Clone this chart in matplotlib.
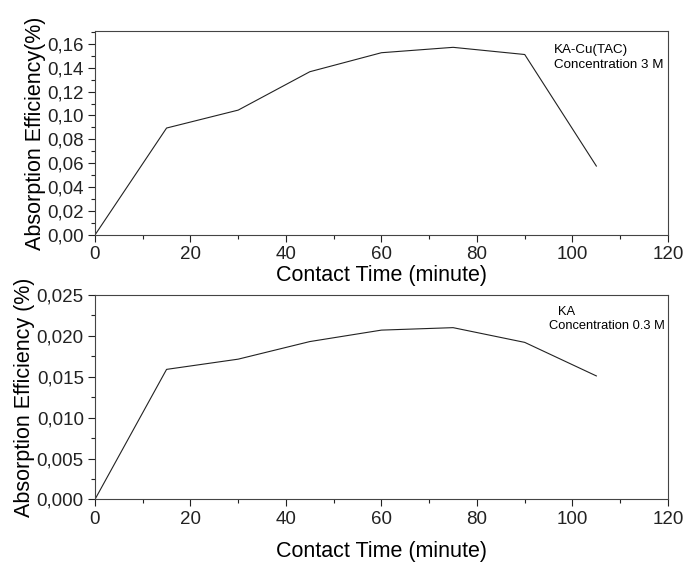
import matplotlib
matplotlib.use("Agg")
import matplotlib.pyplot as plt
from matplotlib.ticker import MultipleLocator, FuncFormatter

plt.rcParams['font.family'] = ['Liberation Sans', 'DejaVu Sans']

time_min = [0, 15, 30, 45, 60, 75, 90, 105]
eff_kacu = [0.0, 0.0895, 0.1045, 0.1366, 0.1525, 0.157, 0.151, 0.0577]
eff_ka = [0.0, 0.0159, 0.01715, 0.0193, 0.0207, 0.0210, 0.0192, 0.0151]

fig = plt.figure(figsize=(6.83, 5.65), dpi=100)
ax1 = fig.add_axes([0.139, 0.584, 0.839, 0.361])
ax2 = fig.add_axes([0.139, 0.116, 0.839, 0.362])

def comma_fmt(dec):
    return FuncFormatter(lambda v, p: f"{v:.{dec}f}".replace('.', ','))

for ax in (ax1, ax2):
    ax.plot(time_min, eff_kacu if ax is ax1 else eff_ka, color='#222222', lw=0.8)
    ax.set_xlim(0, 120)
    ax.xaxis.set_major_locator(MultipleLocator(20))
    ax.xaxis.set_minor_locator(MultipleLocator(10))
    ax.tick_params(which='major', length=5, width=0.8, labelsize=13.5, direction='out',
                   colors='#222222', pad=3)
    ax.tick_params(which='minor', length=3, width=0.8, direction='out', colors='#222222')
    for s in ax.spines.values():
        s.set_color('#444444')
        s.set_linewidth(0.8)
    ax.set_xlabel('Contact Time (minute)', fontsize=15.5, labelpad=1)

ax1.set_ylim(0, 0.1706)
ax1.yaxis.set_major_locator(MultipleLocator(0.02))
ax1.yaxis.set_minor_locator(MultipleLocator(0.01))
ax1.yaxis.set_major_formatter(comma_fmt(2))
ax1.set_ylabel('Absorption Efficiency(%)', fontsize=15.5, labelpad=1)
ax1.text(0.801, 0.935, 'KA-Cu(TAC)\nConcentration 3 M', transform=ax1.transAxes,
         fontsize=9.6, va='top', ha='left', linespacing=1.35)

ax2.set_ylim(0, 0.025)
ax2.yaxis.set_major_locator(MultipleLocator(0.005))
ax2.yaxis.set_minor_locator(MultipleLocator(0.0025))
ax2.yaxis.set_major_formatter(comma_fmt(3))
ax2.set_ylabel('Absorption Efficiency (%)', fontsize=15.5, labelpad=1)
ax2.xaxis.labelpad = 10
ax2.text(0.808, 0.945, 'KA', transform=ax2.transAxes, fontsize=9.3, va='top', ha='left')
ax2.text(0.792, 0.875, 'Concentration 0.3 M', transform=ax2.transAxes, fontsize=9.3, va='top', ha='left')

fig.savefig('out.png', dpi=100)
